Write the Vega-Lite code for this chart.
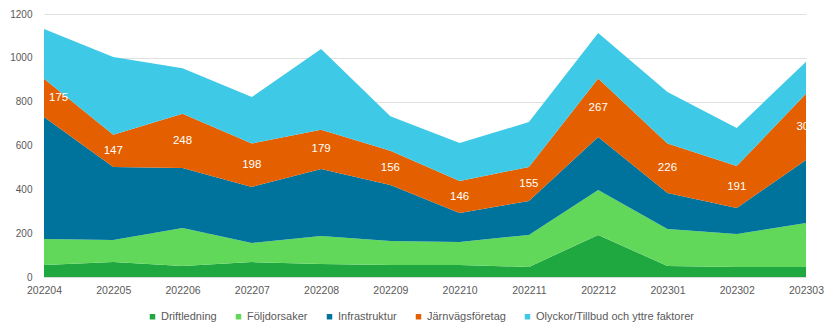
{
  "$schema": "https://vega.github.io/schema/vega-lite/v6.json",
  "width": 762,
  "height": 263,
  "autosize": {"type": "none"},
  "padding": {"left": 44, "top": 14, "right": 19, "bottom": 46},
  "background": "white",
  "config": {
    "font": "Liberation Sans",
    "view": {"stroke": null},
    "axis": {"labelColor": "#595959", "labelFontSize": 10, "titleColor": "#595959"}
  },
  "data": {
    "values": [
      {"month": "202204", "series": "Driftledning", "value": 55},
      {"month": "202204", "series": "Följdorsaker", "value": 118},
      {"month": "202204", "series": "Infrastruktur", "value": 557},
      {"month": "202204", "series": "Järnvägsföretag", "value": 175},
      {"month": "202204", "series": "Olyckor/Tillbud och yttre faktorer", "value": 226},
      {"month": "202205", "series": "Driftledning", "value": 68},
      {"month": "202205", "series": "Följdorsaker", "value": 101},
      {"month": "202205", "series": "Infrastruktur", "value": 333},
      {"month": "202205", "series": "Järnvägsföretag", "value": 147},
      {"month": "202205", "series": "Olyckor/Tillbud och yttre faktorer", "value": 355},
      {"month": "202206", "series": "Driftledning", "value": 50},
      {"month": "202206", "series": "Följdorsaker", "value": 174},
      {"month": "202206", "series": "Infrastruktur", "value": 273},
      {"month": "202206", "series": "Järnvägsföretag", "value": 248},
      {"month": "202206", "series": "Olyckor/Tillbud och yttre faktorer", "value": 208},
      {"month": "202207", "series": "Driftledning", "value": 68},
      {"month": "202207", "series": "Följdorsaker", "value": 87},
      {"month": "202207", "series": "Infrastruktur", "value": 256},
      {"month": "202207", "series": "Järnvägsföretag", "value": 198},
      {"month": "202207", "series": "Olyckor/Tillbud och yttre faktorer", "value": 212},
      {"month": "202208", "series": "Driftledning", "value": 59},
      {"month": "202208", "series": "Följdorsaker", "value": 128},
      {"month": "202208", "series": "Infrastruktur", "value": 306},
      {"month": "202208", "series": "Järnvägsföretag", "value": 179},
      {"month": "202208", "series": "Olyckor/Tillbud och yttre faktorer", "value": 368},
      {"month": "202209", "series": "Driftledning", "value": 55},
      {"month": "202209", "series": "Följdorsaker", "value": 109},
      {"month": "202209", "series": "Infrastruktur", "value": 256},
      {"month": "202209", "series": "Järnvägsföretag", "value": 156},
      {"month": "202209", "series": "Olyckor/Tillbud och yttre faktorer", "value": 158},
      {"month": "202210", "series": "Driftledning", "value": 55},
      {"month": "202210", "series": "Följdorsaker", "value": 105},
      {"month": "202210", "series": "Infrastruktur", "value": 132},
      {"month": "202210", "series": "Järnvägsföretag", "value": 146},
      {"month": "202210", "series": "Olyckor/Tillbud och yttre faktorer", "value": 173},
      {"month": "202211", "series": "Driftledning", "value": 46},
      {"month": "202211", "series": "Följdorsaker", "value": 146},
      {"month": "202211", "series": "Infrastruktur", "value": 155},
      {"month": "202211", "series": "Järnvägsföretag", "value": 155},
      {"month": "202211", "series": "Olyckor/Tillbud och yttre faktorer", "value": 205},
      {"month": "202212", "series": "Driftledning", "value": 192},
      {"month": "202212", "series": "Följdorsaker", "value": 205},
      {"month": "202212", "series": "Infrastruktur", "value": 242},
      {"month": "202212", "series": "Järnvägsföretag", "value": 267},
      {"month": "202212", "series": "Olyckor/Tillbud och yttre faktorer", "value": 207},
      {"month": "202301", "series": "Driftledning", "value": 50},
      {"month": "202301", "series": "Följdorsaker", "value": 169},
      {"month": "202301", "series": "Infrastruktur", "value": 164},
      {"month": "202301", "series": "Järnvägsföretag", "value": 226},
      {"month": "202301", "series": "Olyckor/Tillbud och yttre faktorer", "value": 235},
      {"month": "202302", "series": "Driftledning", "value": 46},
      {"month": "202302", "series": "Följdorsaker", "value": 150},
      {"month": "202302", "series": "Infrastruktur", "value": 119},
      {"month": "202302", "series": "Järnvägsföretag", "value": 191},
      {"month": "202302", "series": "Olyckor/Tillbud och yttre faktorer", "value": 174},
      {"month": "202303", "series": "Driftledning", "value": 46},
      {"month": "202303", "series": "Följdorsaker", "value": 200},
      {"month": "202303", "series": "Infrastruktur", "value": 288},
      {"month": "202303", "series": "Järnvägsföretag", "value": 302},
      {"month": "202303", "series": "Olyckor/Tillbud och yttre faktorer", "value": 146}
    ]
  },
  "layer": [
    {
      "mark": {"type": "area", "opacity": 1},
      "encoding": {
        "x": {
          "field": "month", "type": "ordinal",
          "scale": {"type": "point", "padding": 0},
          "axis": {"title": null, "labelAngle": 0, "ticks": false, "domain": true, "domainColor": "#d9d9d9", "labelPadding": 8, "grid": false, "labelFontSize": 10.5}
        },
        "y": {
          "field": "value", "type": "quantitative", "aggregate": "sum", "stack": "zero",
          "scale": {"domain": [0, 1200], "nice": false},
          "axis": {"title": null, "values": [0, 200, 400, 600, 800, 1000, 1200], "format": "d", "ticks": false, "domain": false, "gridColor": "#e0e0e0", "labelPadding": 12}
        },
        "order": {"field": "series", "sort": "ascending"},
        "color": {
          "field": "series", "type": "nominal",
          "scale": {
            "domain": ["Driftledning", "Följdorsaker", "Infrastruktur", "Järnvägsföretag", "Olyckor/Tillbud och yttre faktorer"],
            "range": ["#1fa83f", "#62d85a", "#00739c", "#e35f00", "#3ec9e6"]
          },
          "legend": {
            "title": null, "orient": "none", "direction": "horizontal",
            "legendX": 103, "legendY": 297,
            "symbolType": "square", "symbolSize": 30, "labelFontSize": 11, "labelColor": "#595959",
            "columnPadding": 16, "symbolOffset": 0, "labelOffset": 3
          }
        }
      }
    },
    {
      "transform": [
        {"stack": "value", "groupby": ["month"], "sort": [{"field": "series", "order": "ascending"}], "as": ["y0", "y1"]},
        {"filter": "datum.series === 'Järnvägsföretag' && datum.month !== '202204'"},
        {"fold": ["y0", "y1"], "as": ["edge", "pos"]},
        {"aggregate": [{"op": "mean", "field": "pos", "as": "mid"}], "groupby": ["month", "value"]}
      ],
      "mark": {"type": "text", "color": "white", "fontSize": 11.5, "font": "Liberation Sans"},
      "encoding": {
        "x": {"field": "month", "type": "ordinal"},
        "y": {"field": "mid", "type": "quantitative"},
        "text": {"field": "value", "type": "quantitative"}
      }
    },
    {
      "transform": [
        {"stack": "value", "groupby": ["month"], "sort": [{"field": "series", "order": "ascending"}], "as": ["y0", "y1"]},
        {"filter": "datum.series === 'Järnvägsföretag' && datum.month === '202204'"},
        {"fold": ["y0", "y1"], "as": ["edge", "pos"]},
        {"aggregate": [{"op": "mean", "field": "pos", "as": "mid"}], "groupby": ["month", "value"]}
      ],
      "mark": {"type": "text", "color": "white", "fontSize": 11.5, "font": "Liberation Sans", "align": "left", "dx": 5},
      "encoding": {
        "x": {"field": "month", "type": "ordinal"},
        "y": {"field": "mid", "type": "quantitative"},
        "text": {"field": "value", "type": "quantitative"}
      }
    }
  ]
}
